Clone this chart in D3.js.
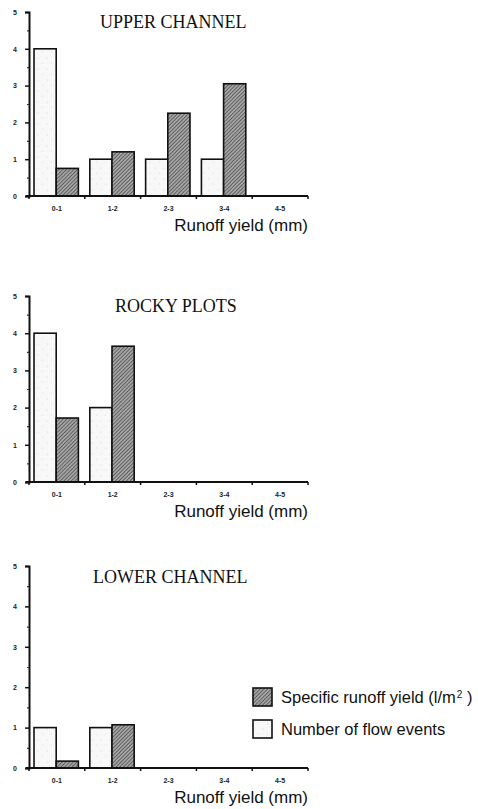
<!DOCTYPE html>
<html>
<head>
<meta charset="utf-8">
<script src="https://cdn.jsdelivr.net/npm/d3@7"></script>
<style>
  html, body { margin: 0; padding: 0; background: #fff; }
  svg { display: block; }
</style>
</head>
<body>
<script>
// Runoff-yield classes (mm) shared by all three sites
const categories = ["0-1", "1-2", "2-3", "3-4", "4-5"];
const yTicks = [0, 1, 2, 3, 4, 5];
const yMinorTicks = [0.5, 1.5, 2.5, 3.5, 4.5];

const panelTitles = ["UPPER CHANNEL", "ROCKY PLOTS", "LOWER CHANNEL"];

// Number of flow events per class
const flowEventsUpper = [4, 1, 1, 1, 0];
const flowEventsRocky = [4, 2, 0, 0, 0];
const flowEventsLower = [1, 1, 0, 0, 0];

// Specific runoff yield (l/m²) per class
const specificYieldUpper = [0.75, 1.2, 2.25, 3.05, 0];
const specificYieldRocky = [1.72, 3.65, 0, 0, 0];
const specificYieldLower = [0.17, 1.07, 0, 0, 0];

const xAxisTitle = "Runoff yield (mm)";
const legendLabels = ["Specific runoff yield (l/m", "Number of flow events"];

const W = 478, H = 809;
const svg = d3.select("body").append("svg").attr("width", W).attr("height", H);

const defs = svg.append("defs");
// fine diagonal hatching for the yield bars
const hatch = defs.append("pattern")
  .attr("id", "hatch").attr("patternUnits", "userSpaceOnUse")
  .attr("width", 2.6).attr("height", 2.6)
  .attr("patternTransform", "rotate(45)");
hatch.append("rect").attr("width", 2.6).attr("height", 2.6).attr("fill", "#a4a4a4");
hatch.append("line").attr("x1", 0).attr("y1", 0).attr("x2", 0).attr("y2", 2.6)
  .attr("stroke", "#3a3a3a").attr("stroke-width", 1.2);
// faint stipple for the event-count bars
const stip = defs.append("pattern")
  .attr("id", "stipple").attr("patternUnits", "userSpaceOnUse")
  .attr("width", 9).attr("height", 11);
stip.append("rect").attr("width", 9).attr("height", 11).attr("fill", "#f8f8f8");
stip.append("circle").attr("cx", 2).attr("cy", 3).attr("r", 0.6).attr("fill", "#d4d4d4");
stip.append("circle").attr("cx", 6.5).attr("cy", 8).attr("r", 0.6).attr("fill", "#dcdcdc");

const panels = [
  { title: panelTitles[0], events: flowEventsUpper, yieldv: specificYieldUpper,
    top: 12, bottom: 196, titleX: 100, titleY: 28 },
  { title: panelTitles[1], events: flowEventsRocky, yieldv: specificYieldRocky,
    top: 296, bottom: 482, titleX: 115, titleY: 312 },
  { title: panelTitles[2], events: flowEventsLower, yieldv: specificYieldLower,
    top: 566, bottom: 768, titleX: 93, titleY: 583 }
];

const axisLeft = 29, axisRight = 308;

const x = d3.scaleBand().domain(categories).range([axisLeft, axisRight]).padding(0);
const sub = d3.scaleBand().domain(["events", "yield"])
  .range([x.bandwidth() * 0.09, x.bandwidth() * 0.885]).padding(0);

panels.forEach(p => {
  const g = svg.append("g");
  const y = d3.scaleLinear().domain([0, 5]).range([p.bottom, p.top]);

  // bars
  const rows = categories.map((c, i) => ({ c, events: p.events[i], yieldv: p.yieldv[i] }));
  rows.forEach(r => {
    if (r.events > 0) {
      g.append("rect")
        .attr("x", x(r.c) + sub("events")).attr("width", sub.bandwidth())
        .attr("y", y(r.events)).attr("height", y(0) - y(r.events))
        .attr("fill", "url(#stipple)").attr("stroke", "#111").attr("stroke-width", 1.6);
    }
    if (r.yieldv > 0) {
      g.append("rect")
        .attr("x", x(r.c) + sub("yield")).attr("width", sub.bandwidth())
        .attr("y", y(r.yieldv)).attr("height", y(0) - y(r.yieldv))
        .attr("fill", "url(#hatch)").attr("stroke", "#111").attr("stroke-width", 1.6);
    }
  });

  // y axis
  const ya = g.append("g").attr("transform", `translate(${axisLeft},0)`)
    .call(d3.axisLeft(y).tickValues(yTicks).tickSize(4).tickPadding(8).tickFormat(d3.format("d")));
  ya.select(".domain").attr("stroke", "#111").attr("stroke-width", 2);
  ya.selectAll(".tick line").attr("stroke", "#111").attr("stroke-width", 1.5);
  ya.selectAll(".tick text").attr("font-family", "Liberation Sans, Arial, sans-serif")
    .attr("font-size", 7).attr("font-weight", "bold").attr("fill", "#222");
  const ym = g.append("g").attr("transform", `translate(${axisLeft},0)`)
    .call(d3.axisLeft(y).tickValues(yMinorTicks).tickSize(2).tickFormat(""));
  ym.select(".domain").remove();
  ym.selectAll(".tick line").attr("stroke", "#333").attr("stroke-width", 1.2);

  // x axis with ticks on class boundaries
  const xa = g.append("g").attr("transform", `translate(0,${p.bottom})`)
    .call(d3.axisBottom(x).tickSize(0).tickPadding(10));
  xa.select(".domain").remove();
  xa.selectAll(".tick text").attr("font-family", "Liberation Sans, Arial, sans-serif")
    .attr("font-size", 7).attr("font-weight", "bold").attr("fill", "#222");
  g.append("line").attr("x1", axisLeft - 3).attr("x2", axisRight)
    .attr("y1", p.bottom).attr("y2", p.bottom)
    .attr("stroke", "#111").attr("stroke-width", 2);
  const bounds = categories.map(c => x(c)).concat([x(categories[categories.length - 1]) + x.bandwidth()]);
  g.selectAll(".bt").data(bounds).enter().append("line")
    .attr("x1", d => d).attr("x2", d => d)
    .attr("y1", p.bottom).attr("y2", p.bottom + 3)
    .attr("stroke", "#111").attr("stroke-width", 1.5);

  g.append("text").attr("x", axisRight).attr("y", p.bottom + 35)
    .attr("text-anchor", "end")
    .attr("font-family", "Liberation Sans, Arial, sans-serif").attr("font-size", 17)
    .attr("fill", "#111").text(xAxisTitle);

  g.append("text").attr("x", p.titleX).attr("y", p.titleY)
    .attr("font-family", "Liberation Serif, Times New Roman, serif").attr("font-size", 18)
    .attr("fill", "#111").text(p.title);
});

// legend
const lg = svg.append("g");
const legendItems = [
  { label: legendLabels[0], fill: "url(#hatch)", y: 688, sup: true },
  { label: legendLabels[1], fill: "url(#stipple)", y: 720, sup: false }
];
legendItems.forEach(it => {
  lg.append("rect").attr("x", 253).attr("y", it.y).attr("width", 19).attr("height", 18)
    .attr("fill", it.fill).attr("stroke", "#111").attr("stroke-width", 1.6);
  const t = lg.append("text").attr("x", 281).attr("y", it.y + 15)
    .attr("font-family", "Liberation Sans, Arial, sans-serif").attr("font-size", 16.5)
    .attr("fill", "#111").text(it.label);
  if (it.sup) {
    t.append("tspan").attr("dy", -5).attr("font-size", 10).attr("dx", 1).text("2");
    t.append("tspan").attr("dy", 5).attr("font-size", 16.5).text(" )");
  }
});
</script>
</body>
</html>
